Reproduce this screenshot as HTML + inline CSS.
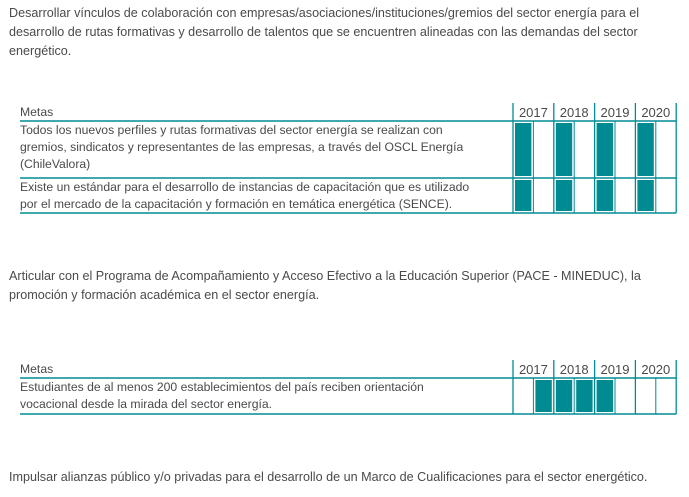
<!DOCTYPE html>
<html><head><meta charset="utf-8"><style>
body{margin:0;width:689px;height:497px;background:#fff;font-family:"Liberation Sans",sans-serif;color:#4a4a4a;position:relative;overflow:hidden}
.p{position:absolute;left:9px;font-size:12.6px;line-height:19px;white-space:nowrap}
.t{position:absolute;left:20px;font-size:12.2px;line-height:17px;white-space:nowrap}
svg{position:absolute;left:0;top:0}
</style></head><body>
<div class="p" style="top:4px">Desarrollar vínculos de colaboración con empresas/asociaciones/instituciones/gremios del sector energía para el<br>desarrollo de rutas formativas y desarrollo de talentos que se encuentren alineadas con las demandas del sector<br>energético.</div>
<div class="t" style="top:104px">Metas</div>
<div class="t" style="top:122px">Todos los nuevos perfiles y rutas formativas del sector energía se realizan con<br>gremios, sindicatos y representantes de las empresas, a través del OSCL Energía<br>(ChileValora)</div>
<div class="t" style="top:179px">Existe un estándar para el desarrollo de instancias de capacitación que es utilizado<br>por el mercado de la capacitación y formación en temática energética (SENCE).</div>
<div class="p" style="top:267px">Articular con el Programa de Acompañamiento y Acceso Efectivo a la Educación Superior (PACE - MINEDUC), la<br>promoción y formación académica en el sector energía.</div>
<div class="t" style="top:361px">Metas</div>
<div class="t" style="top:379px">Estudiantes de al menos 200 establecimientos del país reciben orientación<br>vocacional desde la mirada del sector energía.</div>
<div class="p" style="top:468px">Impulsar alianzas público y/o privadas para el desarrollo de un Marco de Cualificaciones para el sector energético.</div>
<svg id="g" width="689" height="497"></svg>
<script>
const years=["2017","2018","2019","2020"];
const t1Fills=[[1,0,1,0,1,0,1,0],[1,0,1,0,1,0,1,0]];
const t2Fills=[[0,1,1,1,1,0,0,0]];
const NS="http://www.w3.org/2000/svg",svg=document.getElementById("g");
const X0=513,YW=40.8,TEAL="#008b93";
function el(t,a){const e=document.createElementNS(NS,t);for(const k in a)e.setAttribute(k,a[k]);svg.appendChild(e);return e;}
function table(name,top,rows,fills){
  const hb=top+18;let y=hb;const bounds=[hb];rows.forEach(h=>{y+=h;bounds.push(y);});
  const end=X0+YW*4;
  years.forEach((yr,i)=>{
    const tx=el("text",{x:X0+YW*i+YW/2,y:top+14,"text-anchor":"middle","font-size":"13","font-family":"Liberation Sans, sans-serif",fill:"#4a4a4a"});
    tx.textContent=yr;
    
    
  });
  fills.forEach((row,r)=>row.forEach((f,c)=>{if(f){
    const rc=el("rect",{x:X0+c*YW/2+2,y:bounds[r]+2,width:YW/2-4,height:bounds[r+1]-bounds[r]-4,fill:TEAL});
    
    
  }}));
  for(let i=0;i<=4;i++)el("line",{x1:X0+YW*i,x2:X0+YW*i,y1:top,y2:bounds[bounds.length-1],stroke:TEAL,"stroke-width":1.3});
  for(let i=0;i<4;i++)el("line",{x1:X0+YW*i+YW/2,x2:X0+YW*i+YW/2,y1:hb,y2:bounds[bounds.length-1],stroke:TEAL,"stroke-width":1});
  bounds.forEach(b=>el("line",{x1:20,x2:end,y1:b,y2:b,stroke:TEAL,"stroke-width":1.5}));
}
table("table1",103,[57,35],t1Fills);
table("table2",360,[36],t2Fills);
</script>
</body></html>
